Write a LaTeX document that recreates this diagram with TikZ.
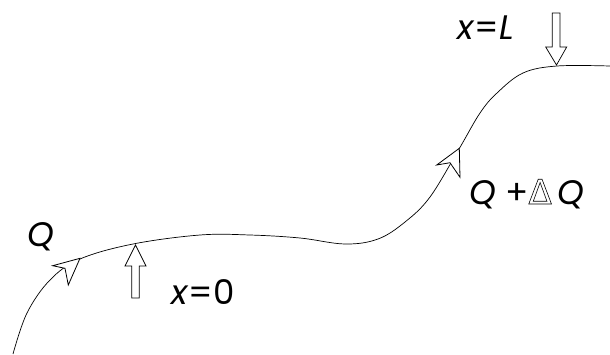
\documentclass[tikz,border=0pt]{standalone}
\usepackage{fontspec}
\setmainfont{Poppins}
\newfontfamily\deltafont{DejaVu Sans}
\newcommand{\hollowdelta}{{\deltafont\special{pdf:literal direct 1 Tr 0.6 w}Δ\special{pdf:literal direct 0 Tr}}}
\begin{document}
\begin{tikzpicture}[x=1pt,y=-1pt,line width=0.8pt,
  lbl/.style={inner sep=0pt,anchor=base west,font=\fontsize{34}{40}\selectfont},
  openhead/.style={draw=black,fill=white,line join=miter},
  blockarrow/.style={draw=black,fill=white,line width=0.7pt,line join=miter}]
\useasboundingbox (0,0) rectangle (610,354);
% curve
\draw[line width=0.7pt] plot[smooth,tension=0.6] coordinates {
 (13,354) (27,313) (50,280) (80,259) (133,244) (200,235) (250,235)
 (300,238) (345,244) (378,239) (405,222) (430,197) (459,149)
 (480,113) (497,93) (523,73) (557,66) (610,66)};
% open arrowheads on the curve
\draw[openhead] (80,258.3) -- (52.7,265.7) -- (65,268.3) -- (68.3,285) -- cycle;
\draw[openhead] (459.3,148.3) -- (436.7,165) -- (450,162.7) -- (460,177.3) -- cycle;
% block arrow up at x=0
\draw[blockarrow] (135.5,245) -- (146,266) -- (139.3,266) -- (139.3,298)
  -- (131.7,298) -- (131.7,266) -- (125,266) -- cycle;
% block arrow down at x=L
\draw[blockarrow] (556.5,65) -- (566.7,47) -- (560,47) -- (560,13)
  -- (552.3,13) -- (552.3,47) -- (545.7,47) -- cycle;
% labels
\node[lbl] (q1) at (27,246) {\textit{Q}};
\node[lbl] (x0) at (171,304) {\textit{x}=0};
\node[lbl] (xL) at (457,39) {\textit{x}=\textit{L}};
\node[lbl] (q2) at (469,204) {\textit{Q} +\hollowdelta\,\textit{Q}};
\end{tikzpicture}
\end{document}
